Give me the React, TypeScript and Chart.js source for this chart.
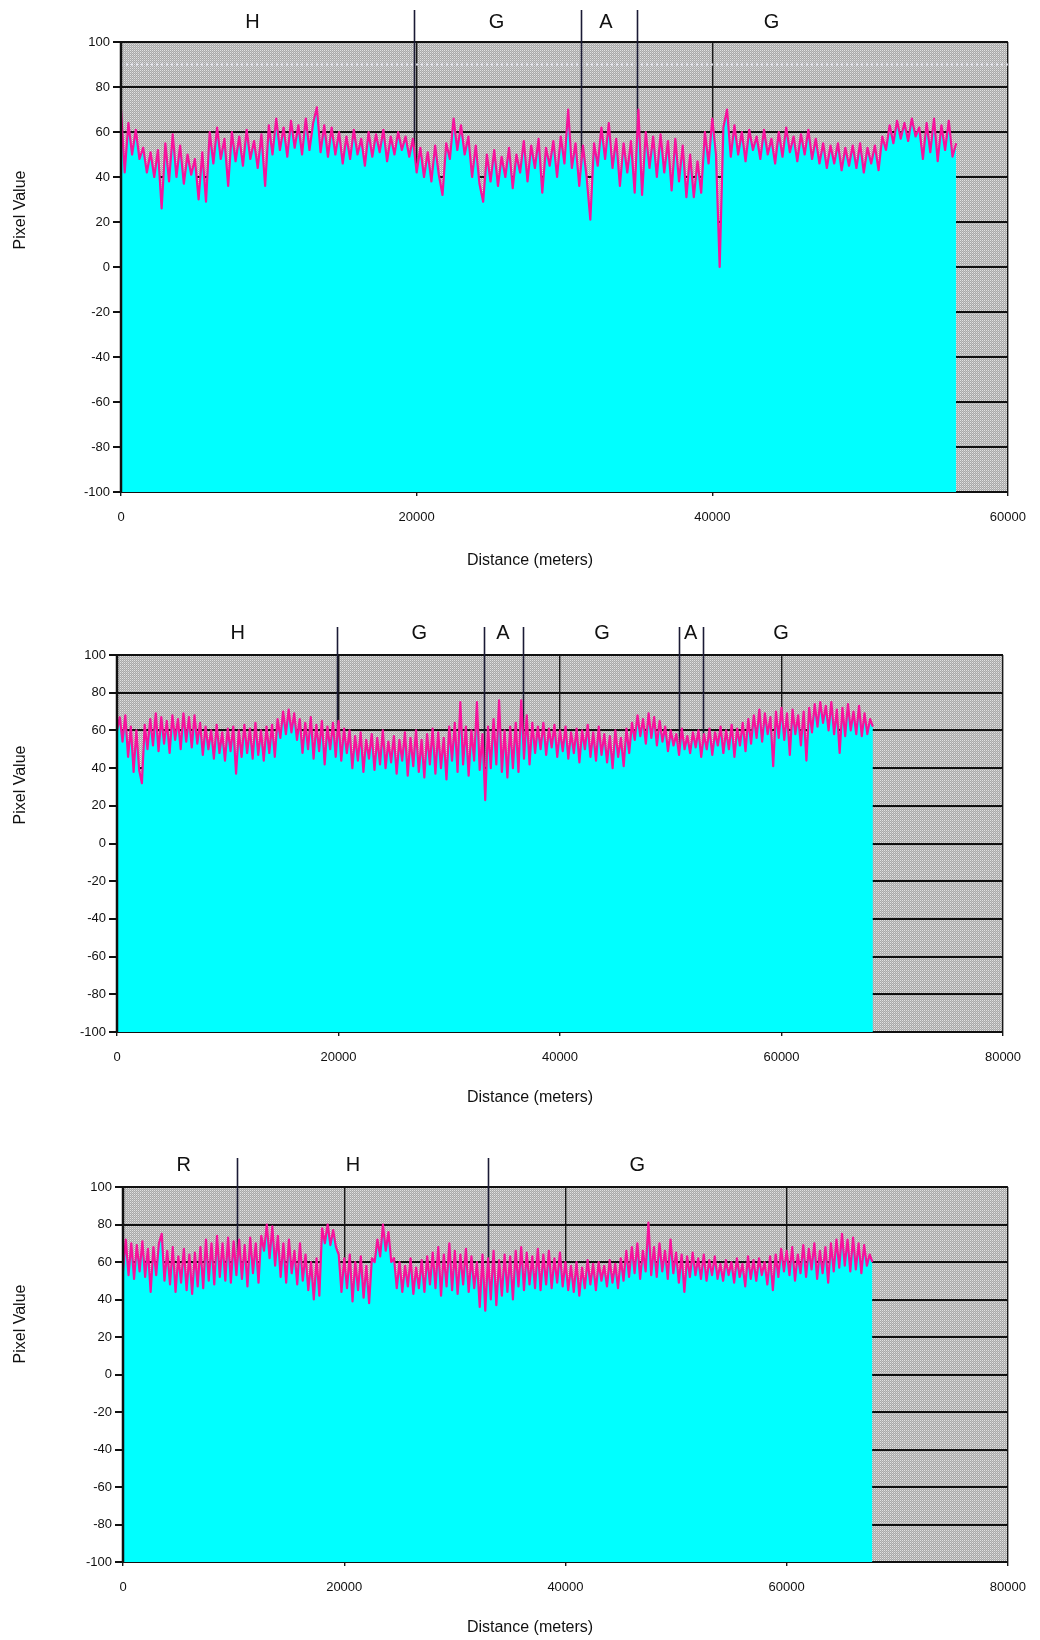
import React, { useEffect, useRef } from 'react';
import { Chart, registerables } from 'chart.js';

Chart.register(...registerables);

// ---------- data ----------
const STEP_M = 250; // sampling distance of the profile (meters)
const Y_MIN = -100;
const Y_MAX = 100;
const Y_STEP = 20;
const X_STEP = 20000;
const Y_TITLE = 'Pixel Value';
const X_TITLE = 'Distance (meters)';

// Panel 1
const P1_X_MAX = 60000;
const P1_VALUES = [
  70, 42, 64, 50, 61, 48, 53, 42, 51, 40, 52, 26, 55, 38, 59, 40, 54, 37, 50, 41,
  48, 30, 51, 29, 60, 46, 62, 48, 57, 36, 60, 47, 58, 45, 61, 48, 56, 44, 59, 36,
  63, 50, 66, 52, 62, 49, 65, 53, 63, 50, 66, 52, 64, 71, 51, 63, 49, 62, 50, 60,
  46, 58, 48, 61, 50, 57, 45, 60, 49, 59, 51, 61, 47, 58, 50, 60, 52, 58, 49, 57,
  42, 53, 40, 51, 38, 54, 41, 32, 55, 48, 66, 52, 63, 50, 58, 40, 54, 37, 29, 50,
  38, 52, 36, 49, 40, 53, 35, 50, 42, 56, 38, 54, 44, 57, 33, 53, 45, 56, 40, 58,
  46, 70, 44, 55, 36, 54, 40, 21, 55, 45, 62, 48, 64, 44, 57, 36, 55, 42, 56, 33,
  70, 32, 60, 44, 58, 40, 59, 42, 56, 34, 57, 38, 54, 31, 50, 31, 47, 33, 60, 46,
  66, 50, 0, 62, 70, 49, 63, 50, 60, 47, 61, 52, 58, 48, 61, 50, 57, 46, 60, 49,
  62, 51, 58, 47, 59, 50, 61, 48, 57, 46, 55, 44, 54, 46, 55, 43, 53, 45, 54, 44,
  55, 42, 53, 46, 54, 43, 58, 52, 63, 55, 65, 57, 64, 56, 66, 58, 62, 48, 64, 51,
  66, 47, 63, 52, 65, 49, 55,
];
const P1_MARKERS = [19800, 31100, 34900];
const P1_ZONE_LABELS = ['H', 'G', 'A', 'G'];
const P1_ZONE_POS = [8900, 25400, 32800, 44000];

// Panel 2
const P2_X_MAX = 80000;
const P2_VALUES = [
  60, 67, 54, 68, 46, 62, 38, 60, 39, 32, 63, 50, 66, 52, 69, 49, 67, 53, 65, 48,
  68, 55, 66, 50, 69, 54, 67, 51, 68, 53, 64, 47, 62, 50, 60, 45, 63, 48, 59, 44,
  61, 49, 62, 37, 60, 46, 63, 48, 61, 45, 64, 47, 60, 44, 62, 48, 63, 46, 66, 56,
  70, 58, 71, 59, 69, 55, 66, 48, 64, 50, 67, 45, 63, 49, 65, 42, 62, 50, 64, 46,
  65, 44, 61, 48, 60, 40, 57, 44, 59, 38, 55, 45, 58, 39, 56, 42, 60, 40, 54, 43,
  57, 37, 55, 44, 59, 36, 56, 41, 60, 38, 55, 35, 58, 42, 61, 37, 59, 40, 56, 34,
  62, 44, 64, 38, 75, 42, 62, 36, 60, 44, 75, 39, 58, 23, 62, 40, 66, 42, 76, 38,
  60, 35, 62, 40, 64, 38, 76, 45, 68, 42, 64, 48, 62, 50, 64, 47, 61, 51, 63, 46,
  60, 49, 62, 45, 59, 48, 61, 43, 60, 50, 63, 46, 59, 44, 62, 47, 58, 43, 57, 40,
  60, 46, 56, 41, 61, 48, 64, 55, 68, 57, 66, 53, 69, 56, 67, 52, 65, 54, 62, 49,
  60, 52, 58, 47, 61, 50, 57, 48, 59, 51, 60, 46, 58, 50, 61, 47, 59, 52, 62, 48,
  60, 50, 63, 46, 61, 52, 64, 49, 66, 53, 68, 56, 71, 54, 69, 58, 67, 41, 70, 56,
  72, 55, 69, 47, 71, 58, 68, 52, 70, 44, 72, 59, 74, 62, 75, 64, 73, 60, 75, 58,
  71, 48, 72, 57, 74, 60, 70, 58, 73, 57, 69, 58, 66, 62,
];
const P2_MARKERS = [19900, 33100, 36700, 50750, 52900];
const P2_ZONE_LABELS = ['H', 'G', 'A', 'G', 'A', 'G'];
const P2_ZONE_POS = [10900, 27300, 34850, 43800, 51800, 59950];

// Panel 3
const P3_X_MAX = 80000;
const P3_VALUES = [
  55, 72, 53, 70, 51, 69, 55, 71, 52, 67, 44, 68, 53, 70, 75, 50, 66, 48, 68, 44,
  63, 49, 67, 45, 64, 43, 65, 47, 68, 46, 72, 50, 70, 48, 74, 52, 70, 50, 73, 49,
  71, 53, 72, 51, 69, 47, 73, 54, 70, 49, 74, 66, 80, 62, 79, 58, 74, 52, 70, 49,
  72, 54, 66, 48, 70, 50, 64, 45, 60, 40, 62, 42, 78, 70, 80, 69, 77, 68, 64, 44,
  62, 46, 64, 39, 60, 45, 63, 41, 58, 38, 62, 60, 72, 63, 80, 66, 76, 60, 62, 46,
  60, 44, 58, 47, 62, 43, 57, 46, 61, 44, 63, 48, 65, 46, 68, 42, 64, 47, 70, 45,
  66, 43, 64, 48, 67, 44, 63, 46, 60, 36, 64, 34, 62, 40, 66, 37, 61, 42, 64, 44,
  63, 40, 66, 47, 68, 45, 65, 48, 63, 46, 67, 45, 64, 48, 66, 46, 62, 49, 65, 47,
  60, 45, 58, 44, 60, 42, 57, 46, 61, 48, 59, 45, 60, 50, 58, 47, 61, 49, 59, 46,
  62, 50, 66, 52, 68, 54, 70, 51, 66, 55, 81, 53, 68, 52, 70, 55, 66, 51, 72, 54,
  65, 49, 64, 44, 63, 52, 65, 53, 62, 51, 64, 50, 61, 53, 63, 51, 59, 50, 61, 53,
  60, 49, 62, 52, 59, 47, 63, 51, 61, 50, 62, 53, 60, 48, 63, 45, 64, 52, 67, 55,
  66, 53, 68, 50, 64, 54, 69, 52, 67, 56, 70, 51, 66, 54, 68, 49, 70, 55, 72, 57,
  75, 58, 72, 55, 73, 56, 70, 54, 69, 58, 64, 60,
];
const P3_MARKERS = [10300, 33000];
const P3_ZONE_LABELS = ['R', 'H', 'G'];
const P3_ZONE_POS = [5500, 20800, 46500];

// ---------- layout / style ----------
const FONT = '"Liberation Sans", Arial, sans-serif';
const TEXT = '#111111';
const CYAN = '#00ffff';
const MAGENTA = '#f7129c';

type Panel = {
  values: number[];
  xMax: number;
  markers: number[];
  zoneLabels: string[];
  zonePos: number[];
  dotted90: boolean;
  top: number;
  height: number;
  axisW: number;
  padRight: number;
  padTop: number;
  axisH: number;
  markerTop: number;
  labelGap: number;
  xTitleY: number;
  yTitleY: number;
};

const PANELS: Panel[] = [
  {
    values: P1_VALUES, xMax: P1_X_MAX, markers: P1_MARKERS, zoneLabels: P1_ZONE_LABELS, zonePos: P1_ZONE_POS,
    dotted90: true, top: 0, height: 580, axisW: 121, padRight: 31, padTop: 42, axisH: 88,
    markerTop: 32, labelGap: 20, xTitleY: 561, yTitleY: 210,
  },
  {
    values: P2_VALUES, xMax: P2_X_MAX, markers: P2_MARKERS, zoneLabels: P2_ZONE_LABELS, zonePos: P2_ZONE_POS,
    dotted90: false, top: 590, height: 530, axisW: 117, padRight: 37, padTop: 65, axisH: 88,
    markerTop: 28, labelGap: 22, xTitleY: 508, yTitleY: 195,
  },
  {
    values: P3_VALUES, xMax: P3_X_MAX, markers: P3_MARKERS, zoneLabels: P3_ZONE_LABELS, zonePos: P3_ZONE_POS,
    dotted90: false, top: 1130, height: 510, axisW: 123, padRight: 30, padTop: 57, axisH: 78,
    markerTop: 29, labelGap: 22, xTitleY: 498, yTitleY: 194,
  },
];

function makePattern(ctx: CanvasRenderingContext2D): CanvasPattern | string {
  const c = document.createElement('canvas');
  c.width = 4;
  c.height = 4;
  const g = c.getContext('2d');
  if (!g) return '#b8b8b8';
  g.fillStyle = '#a9a9a9';
  g.fillRect(0, 0, 4, 4);
  g.fillStyle = '#e2e2e2';
  g.fillRect(0, 0, 1, 1);
  g.fillRect(2, 0, 1, 1);
  g.fillRect(0, 2, 1, 1);
  g.fillRect(2, 2, 1, 1);
  g.fillStyle = '#c2c2c2';
  g.fillRect(1, 1, 1, 1);
  g.fillRect(3, 3, 1, 1);
  g.fillRect(1, 3, 1, 1);
  g.fillRect(3, 1, 1, 1);
  return ctx.createPattern(c, 'repeat') || '#b8b8b8';
}

function decorPlugin(p: Panel) {
  return {
    id: 'panelDecor',
    beforeDraw(chart: any) {
      const { ctx, chartArea: a } = chart;
      ctx.save();
      ctx.fillStyle = makePattern(ctx);
      ctx.fillRect(a.left, a.top, a.right - a.left, a.bottom - a.top);
      ctx.restore();
    },
    beforeDatasetsDraw(chart: any) {
      const { ctx, chartArea: a, scales } = chart;
      ctx.save();
      if (p.dotted90) {
        const y = scales.y.getPixelForValue(90);
        ctx.setLineDash([2, 3]);
        ctx.strokeStyle = 'rgba(245,245,255,0.85)';
        ctx.lineWidth = 2;
        ctx.beginPath();
        ctx.moveTo(a.left, y);
        ctx.lineTo(a.right, y);
        ctx.stroke();
        ctx.setLineDash([]);
      }
      ctx.strokeStyle = '#1b1b35';
      ctx.lineWidth = 1.6;
      for (const m of p.markers) {
        const x = Math.round(scales.x.getPixelForValue(m)) + 0.5;
        ctx.beginPath();
        ctx.moveTo(x, a.top - p.markerTop);
        ctx.lineTo(x, a.bottom);
        ctx.stroke();
      }
      ctx.restore();
    },
    afterDatasetsDraw(chart: any) {
      const { ctx, chartArea: a, scales } = chart;
      ctx.save();
      // left axis line
      ctx.strokeStyle = '#111';
      ctx.lineWidth = 2.5;
      ctx.beginPath();
      ctx.moveTo(a.left, a.top);
      ctx.lineTo(a.left, a.bottom);
      ctx.stroke();
      // zone labels
      ctx.fillStyle = TEXT;
      ctx.font = `20px ${FONT}`;
      ctx.textAlign = 'center';
      ctx.textBaseline = 'middle';
      p.zoneLabels.forEach((lab, i) => {
        const x = scales.x.getPixelForValue(p.zonePos[i]);
        ctx.fillText(lab, x, a.top - p.labelGap);
      });
      // axis titles
      ctx.font = `16px ${FONT}`;
      ctx.fillText(X_TITLE, 530, p.xTitleY);
      ctx.translate(21, p.yTitleY);
      ctx.rotate(-Math.PI / 2);
      ctx.fillText(Y_TITLE, 0, 0);
      ctx.restore();
    },
  };
}

function PanelChart({ p }: { p: Panel }) {
  const ref = useRef<HTMLCanvasElement | null>(null);
  useEffect(() => {
    if (!ref.current) return;
    const data = p.values.map((v, i) => ({ x: i * STEP_M, y: v }));
    const chart = new Chart(ref.current, {
      type: 'line',
      data: {
        datasets: [
          {
            data,
            borderColor: MAGENTA,
            backgroundColor: CYAN,
            borderWidth: 2.2,
            borderJoinStyle: 'round',
            pointRadius: 0,
            tension: 0,
            fill: 'start',
          },
        ],
      },
      options: {
        responsive: false,
        animation: false,
        events: [],
        layout: { padding: { top: p.padTop, left: 0, right: p.padRight, bottom: 0 } },
        plugins: { legend: { display: false }, tooltip: { enabled: false } },
        scales: {
          x: {
            type: 'linear',
            min: 0,
            max: p.xMax,
            border: { display: false },
            grid: { color: '#1a1a1a', lineWidth: 1.4, tickLength: 4, drawTicks: true },
            ticks: {
              stepSize: X_STEP,
              autoSkip: false,
              maxRotation: 0,
              padding: 14,
              color: TEXT,
              font: { family: FONT, size: 13 },
              callback: (v: any) => String(v),
            },
            afterFit: (s: any) => {
              s.height = p.axisH;
            },
          },
          y: {
            type: 'linear',
            min: Y_MIN,
            max: Y_MAX,
            border: { display: false },
            grid: { color: '#111111', lineWidth: 2, tickLength: 8, drawTicks: true },
            ticks: {
              stepSize: Y_STEP,
              padding: 3,
              color: TEXT,
              font: { family: FONT, size: 13 },
              callback: (v: any) => String(v),
            },
            afterFit: (s: any) => {
              s.width = p.axisW;
            },
          },
        },
      },
      plugins: [decorPlugin(p)],
    } as any);
    return () => chart.destroy();
  }, [p]);
  return (
    <canvas
      ref={ref}
      width={1040}
      height={p.height}
      style={{ position: 'absolute', left: 0, top: p.top, width: 1040, height: p.height }}
    />
  );
}

export default function App() {
  return (
    <div style={{ position: 'absolute', left: 0, top: 0, width: 1040, height: 1640, background: '#fff' }}>
      {PANELS.map((p, i) => (
        <PanelChart key={i} p={p} />
      ))}
    </div>
  );
}
